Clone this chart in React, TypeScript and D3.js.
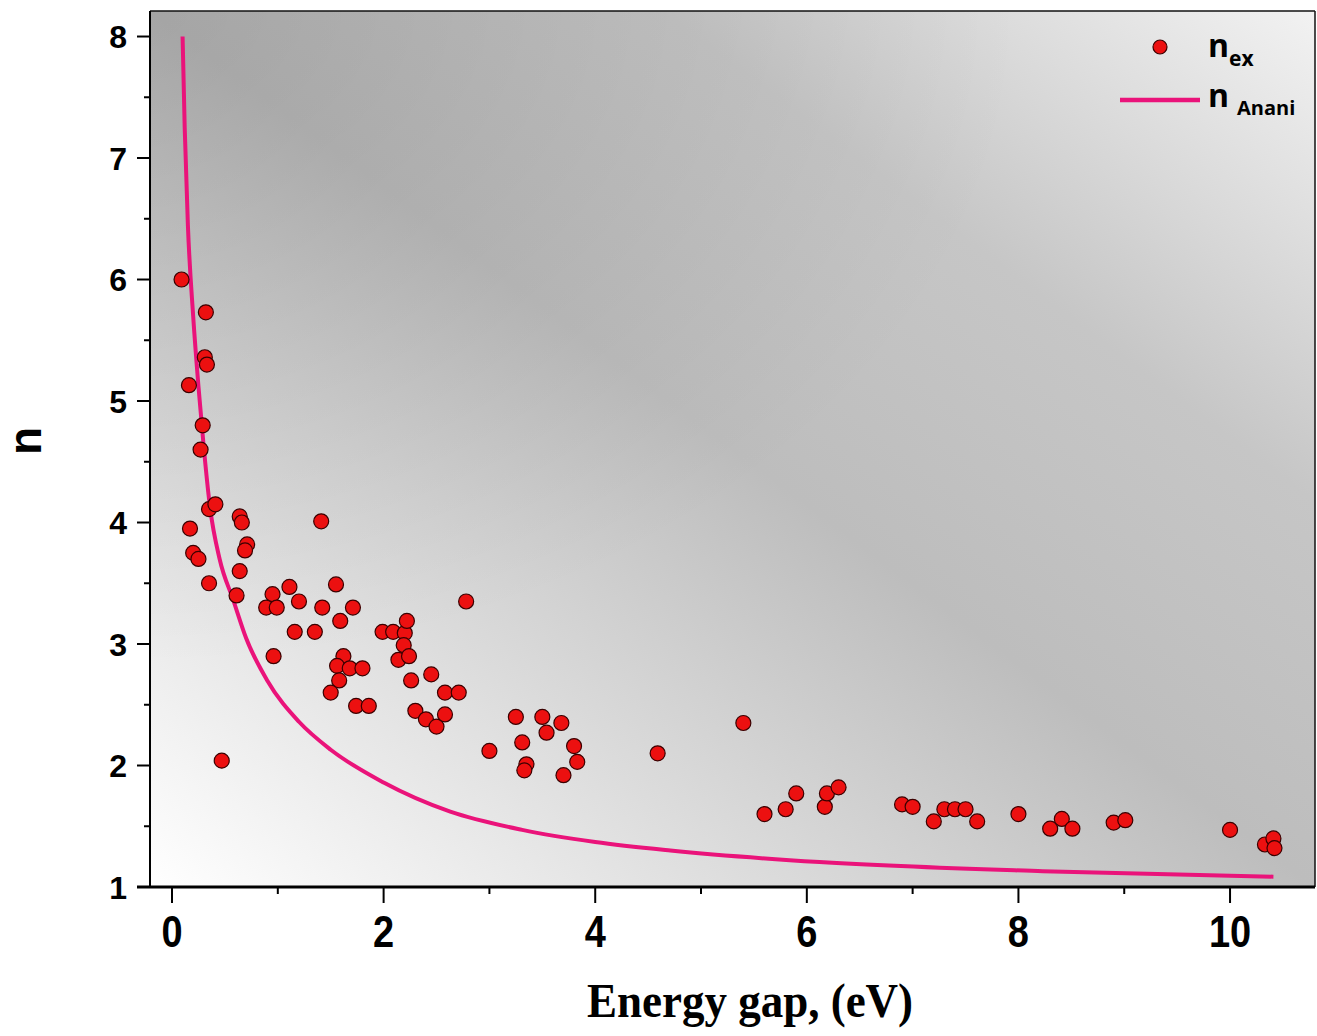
import React from 'react';
import * as d3 from 'd3';

const W = 1317;
const H = 1036;

// Experimental points: energy gap (eV) and refractive index n_ex
const energyGap = [
  0.09, 0.32, 0.31, 0.33, 0.16, 0.29, 0.27, 0.35, 0.41, 0.17, 0.20, 0.25, 0.35,
  0.64, 0.66, 0.71, 0.69, 0.64, 0.61, 0.47, 1.41, 0.95, 0.89, 0.99, 1.11, 1.20,
  1.16, 1.35, 0.96, 1.42, 1.55, 1.59, 1.71, 1.62, 1.56, 1.68, 1.80, 1.58, 1.50,
  1.74, 1.86, 1.99, 2.09, 2.20, 2.22, 2.19, 2.14, 2.24, 2.26, 2.45, 2.30, 2.40,
  2.50, 2.58, 2.71, 2.58, 2.78, 3.00, 3.25, 3.31, 3.35, 3.33, 3.50, 3.54, 3.68,
  3.80, 3.83, 3.70, 4.59, 5.40, 5.60, 5.80, 5.90, 6.17, 6.19, 6.30, 6.90, 7.00,
  7.20, 7.30, 7.40, 7.50, 7.61, 8.00, 8.30, 8.41, 8.51, 8.90, 9.01, 10.00, 10.33,
  10.41, 10.42,
];
const nEx = [
  6.00, 5.73, 5.36, 5.30, 5.13, 4.80, 4.60, 4.11, 4.15, 3.95, 3.75, 3.70, 3.50,
  4.05, 4.00, 3.82, 3.77, 3.60, 3.40, 2.04, 4.01, 3.41, 3.30, 3.30, 3.47, 3.35,
  3.10, 3.10, 2.90, 3.30, 3.49, 3.19, 3.30, 2.90, 2.82, 2.80, 2.80, 2.70, 2.60,
  2.49, 2.49, 3.10, 3.10, 3.09, 3.19, 2.99, 2.87, 2.90, 2.70, 2.75, 2.45, 2.38,
  2.32, 2.60, 2.60, 2.42, 3.35, 2.12, 2.40, 2.19, 2.01, 1.96, 2.40, 2.27, 2.35,
  2.16, 2.03, 1.92, 2.10, 2.35, 1.60, 1.64, 1.77, 1.66, 1.77, 1.82, 1.68, 1.66,
  1.54, 1.64, 1.64, 1.64, 1.54, 1.60, 1.48, 1.56, 1.48, 1.53, 1.55, 1.47, 1.35,
  1.40, 1.32,
];

// Anani model curve
const curveE = [
  0.10, 0.12, 0.15, 0.20, 0.25, 0.30, 0.36, 0.45, 0.58, 0.70, 0.90, 1.20, 1.50,
  2.00, 2.63, 3.31, 4.00, 4.71, 6.12, 8.23, 10.41,
];
const curveN = [
  8.0, 7.25, 6.45, 5.70, 5.12, 4.62, 4.12, 3.70, 3.36, 3.05, 2.70, 2.36, 2.13,
  1.86, 1.62, 1.47, 1.37, 1.30, 1.205, 1.13, 1.085,
];

const xTicks = [0, 2, 4, 6, 8, 10];
const xMinorTicks = [1, 3, 5, 7, 9];
const yTicks = [1, 2, 3, 4, 5, 6, 7, 8];
const yMinorTicks = [1.5, 2.5, 3.5, 4.5, 5.5, 6.5, 7.5];

export default function App() {
  const x = d3.scaleLinear().domain([-0.208, 10.803]).range([150, 1315]);
  const y = d3.scaleLinear().domain([1, 8.21]).range([887, 11]);
  const [x0, x1] = x.range();
  const [yb, yt] = y.range();

  const curvePts: [number, number][] = curveE.map((e, i) => [e, curveN[i]]);
  const line = d3
    .line<[number, number]>()
    .x((d) => x(d[0]))
    .y((d) => y(d[1]))
    .curve(d3.curveMonotoneX);

  const sans = '"Liberation Sans", Arial, sans-serif';
  const serif = '"Liberation Serif", "Times New Roman", serif';
  const legendFont = '"Open Sans", "Noto Sans", sans-serif';
  const markerFill = '#ec1010';
  const markerStroke = '#3a0000';
  const lineColor = '#ea137a';

  return (
    <svg
      width={W}
      height={H}
      style={{ position: 'absolute', left: 0, top: 0, background: '#ffffff' }}
    >
      <defs>
        <linearGradient id="bg" x1="0" y1="1" x2="1" y2="0">
          <stop offset="0" stopColor="#ffffff" />
          <stop offset="0.5" stopColor="#bdbdbd" />
          <stop offset="0.72" stopColor="#c6c6c6" />
          <stop offset="1" stopColor="#f2f2f2" />
        </linearGradient>
        <radialGradient id="tl" cx="0" cy="0" r="0.75" fx="0" fy="0">
          <stop offset="0" stopColor="#000" stopOpacity={0.13} />
          <stop offset="1" stopColor="#000" stopOpacity={0} />
        </radialGradient>
        <clipPath id="plotClip">
          <rect x={x0} y={yt} width={x1 - x0} height={yb - yt} />
        </clipPath>
      </defs>

      <rect x={x0} y={yt} width={x1 - x0} height={yb - yt} fill="url(#bg)" />
      <rect x={x0} y={yt} width={x1 - x0} height={yb - yt} fill="url(#tl)" />

      {/* frame */}
      <line x1={x0} y1={yt} x2={x1} y2={yt} stroke="#111" strokeWidth={1.5} />
      <line x1={x1} y1={yt} x2={x1} y2={yb} stroke="#111" strokeWidth={1.5} />
      <line x1={x0} y1={yt} x2={x0} y2={yb} stroke="#000" strokeWidth={2} />
      <line x1={137} y1={yb} x2={x1} y2={yb} stroke="#000" strokeWidth={3} />

      {/* y ticks */}
      {yTicks.map((t) => (
        <g key={'yt' + t}>
          <line x1={x0 - 13} x2={x0} y1={y(t)} y2={y(t)} stroke="#000" strokeWidth={2} />
          <text
            x={127}
            y={y(t)}
            dy="0.36em"
            textAnchor="end"
            fontFamily={sans}
            fontWeight="bold"
            fontSize={32}
            fill="#000"
          >
            {t}
          </text>
        </g>
      ))}
      {yMinorTicks.map((t) => (
        <line key={'ym' + t} x1={x0 - 6} x2={x0} y1={y(t)} y2={y(t)} stroke="#000" strokeWidth={2} />
      ))}

      {/* x ticks */}
      {xTicks.map((t) => (
        <g key={'xt' + t}>
          <line x1={x(t)} x2={x(t)} y1={yb} y2={yb + 16} stroke="#000" strokeWidth={2} />
          <text
            transform={`translate(${x(t)},947) scale(1,1.15)`}
            textAnchor="middle"
            fontFamily={sans}
            fontWeight="bold"
            fontSize={38}
            fill="#000"
          >
            {t}
          </text>
        </g>
      ))}
      {xMinorTicks.map((t) => (
        <line key={'xm' + t} x1={x(t)} x2={x(t)} y1={yb} y2={yb + 7} stroke="#000" strokeWidth={2} />
      ))}

      {/* axis titles */}
      <text
        transform="translate(750,1017) scale(1,1.1)"
        textAnchor="middle"
        fontFamily={serif}
        fontWeight="bold"
        fontSize={45}
        fill="#000"
      >
        Energy gap, (eV)
      </text>
      <text
        transform="translate(41,441) rotate(-90)"
        textAnchor="middle"
        fontFamily={sans}
        fontWeight="bold"
        fontSize={46}
        fill="#000"
      >
        n
      </text>

      <g clipPath="url(#plotClip)">
        <path d={line(curvePts) || ''} fill="none" stroke={lineColor} strokeWidth={4} />
        {energyGap.map((e, i) => (
          <circle
            key={'p' + i}
            cx={x(e)}
            cy={y(nEx[i])}
            r={7.5}
            fill={markerFill}
            stroke={markerStroke}
            strokeWidth={1.2}
          />
        ))}
      </g>

      {/* legend */}
      <circle cx={1160} cy={47} r={7} fill={markerFill} stroke={markerStroke} strokeWidth={1.2} />
      <text x={1208} y={57} fontFamily={legendFont} fontWeight="bold" fontSize={32} fill="#000">
        n
        <tspan dy={9} fontSize={21}>
          ex
        </tspan>
      </text>
      <line x1={1120} x2={1200} y1={100} y2={100} stroke={lineColor} strokeWidth={4.5} />
      <text x={1208} y={107} fontFamily={legendFont} fontWeight="bold" fontSize={32} fill="#000">
        n
        <tspan dx={8} dy={8} fontSize={20}>
          Anani
        </tspan>
      </text>
    </svg>
  );
}
